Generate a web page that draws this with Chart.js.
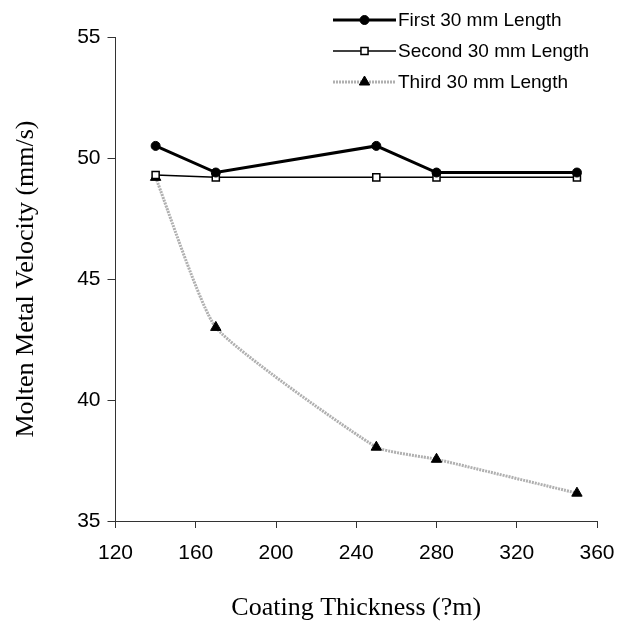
<!DOCTYPE html>
<html>
<head>
<meta charset="utf-8">
<script src="https://cdn.jsdelivr.net/npm/chart.js@4/dist/chart.umd.min.js"></script>
<style>
html,body{margin:0;padding:0;background:#fff;}
#wrap{width:619px;height:626px;}
</style>
</head>
<body>
<div id="wrap"><canvas id="c" width="619" height="626"></canvas></div>
<script>
// Data
const thickness = [140, 170, 250, 280, 350];
const firstLength = [50.5, 49.4, 50.5, 49.4, 49.4];
const secondLength = [49.3, 49.2, 49.2, 49.2, 49.2];
const thirdLength = [49.2, 43.0, 38.05, 37.55, 36.15];
const seriesLabels = ['First 30 mm Length', 'Second 30 mm Length', 'Third 30 mm Length'];
const xTitle = 'Coating Thickness (?m)';
const yTitle = 'Molten Metal Velocity (mm/s)';
const xTicks = [120, 160, 200, 240, 280, 320, 360];
const yTicks = [35, 40, 45, 50, 55];

const pts = (ys) => thickness.map((x, i) => ({x: x, y: ys[i]}));
const drawPt = Chart.helpers.drawPoint;

const legendPlugin = {
  id: 'customLegend',
  afterDraw(chart) {
    const ctx = chart.ctx;
    const x0 = 333, x1 = 396, tx = 398;
    const rows = [20, 51, 82];
    ctx.save();
    chart.data.datasets.forEach((ds, i) => {
      const y = rows[i];
      ctx.beginPath();
      ctx.strokeStyle = ds.borderColor;
      ctx.lineWidth = ds.borderWidth;
      ctx.setLineDash(ds.borderDash || []);
      ctx.moveTo(x0, y);
      ctx.lineTo(x1, y);
      ctx.stroke();
      ctx.setLineDash([]);
      ctx.fillStyle = ds.pointBackgroundColor;
      ctx.strokeStyle = ds.pointBorderColor;
      ctx.lineWidth = ds.pointBorderWidth;
      drawPt(ctx, {pointStyle: ds.pointStyle, rotation: 0, radius: ds.pointRadius, borderWidth: ds.pointBorderWidth}, (x0 + x1) / 2, y);
      ctx.fillStyle = '#000';
      ctx.font = '19px "Liberation Sans", Arial, sans-serif';
      ctx.textBaseline = 'middle';
      ctx.textAlign = 'left';
      ctx.fillText(ds.label, tx, y + 1);
    });
    ctx.restore();
  }
};

new Chart(document.getElementById('c'), {
  type: 'line',
  data: {
    datasets: [
      {
        label: seriesLabels[0],
        data: pts(firstLength),
        borderColor: '#000',
        borderWidth: 3,
        pointStyle: 'circle',
        pointRadius: 4.5,
        pointBackgroundColor: '#000',
        pointBorderColor: '#000',
        pointBorderWidth: 1,
        order: 1
      },
      {
        label: seriesLabels[1],
        data: pts(secondLength),
        borderColor: '#000',
        borderWidth: 1.5,
        pointStyle: 'rect',
        pointRadius: 5,
        pointBackgroundColor: '#fff',
        pointBorderColor: '#000',
        pointBorderWidth: 1.5,
        order: 2
      },
      {
        label: seriesLabels[2],
        data: pts(thirdLength),
        borderColor: '#b0b0b0',
        borderWidth: 3,
        borderDash: [2, 1],
        tension: 0.15,
        pointStyle: 'triangle',
        pointRadius: 6,
        pointBackgroundColor: '#000',
        pointBorderColor: '#000',
        pointBorderWidth: 1,
        order: 3
      }
    ]
  },
  options: {
    responsive: false,
    animation: false,
    layout: {padding: {top: 37, right: 22, left: 0, bottom: 0}},
    plugins: {legend: {display: false}, tooltip: {enabled: false}},
    scales: {
      x: {
        type: 'linear',
        min: 120, max: 360,
        afterBuildTicks: (s) => { s.ticks = xTicks.map(v => ({value: v})); },
        afterFit: (s) => { s.height = 105; s.paddingLeft = 0; s.paddingRight = 0; },
        grid: {drawOnChartArea: false, drawTicks: true, tickLength: 7, color: '#333', tickColor: '#333'},
        border: {display: true, color: '#333', width: 1},
        ticks: {color: '#000', padding: 13, font: {family: '"Liberation Sans", Arial, sans-serif', size: 21}, maxRotation: 0},
        title: {display: true, text: xTitle, color: '#000', font: {family: '"Liberation Serif", "Times New Roman", serif', size: 26}, padding: {top: 0, bottom: 2}}
      },
      y: {
        type: 'linear',
        min: 35, max: 55,
        afterBuildTicks: (s) => { s.ticks = yTicks.map(v => ({value: v})); },
        afterFit: (s) => { s.width = 115.5; s.paddingTop = 0; s.paddingBottom = 0; },
        grid: {drawOnChartArea: false, drawTicks: true, tickLength: 8, color: '#333', tickColor: '#333'},
        border: {display: true, color: '#333', width: 1},
        ticks: {color: '#000', padding: 7, font: {family: '"Liberation Sans", Arial, sans-serif', size: 21}},
        title: {display: true, text: yTitle, color: '#000', font: {family: '"Liberation Serif", "Times New Roman", serif', size: 26}, padding: {top: 11, bottom: 0}}
      }
    }
  },
  plugins: [legendPlugin]
});
</script>
</body>
</html>
